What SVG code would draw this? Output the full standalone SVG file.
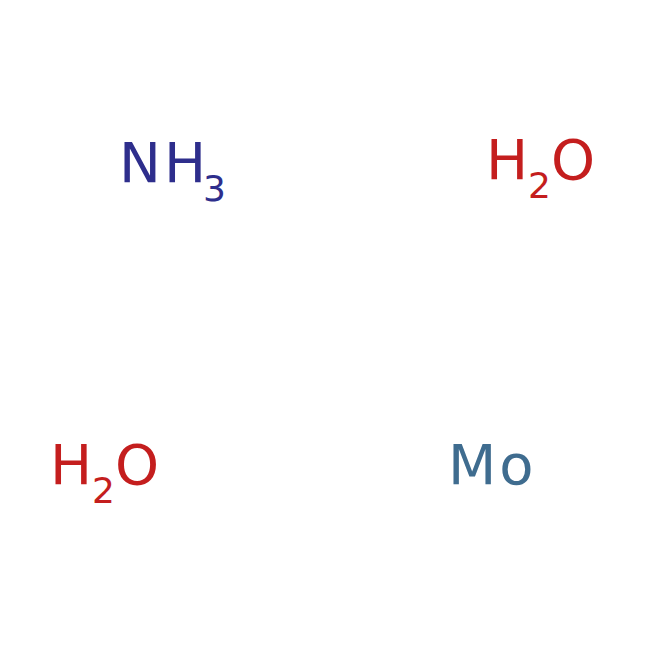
<svg xmlns="http://www.w3.org/2000/svg" width="650" height="650" viewBox="0 0 650 650">
<style>
text{font-family:"DejaVu Sans",sans-serif;font-size:56px}
.s{font-size:36px}
.n{fill:#2e2e8c}
.o{fill:#c41e1e}
.mo{fill:#3f6c8f}
</style>
<rect width="650" height="650" fill="#ffffff"/>
<g id="nh3"><text x="119" y="182" class="n">N<tspan dx="3">H</tspan><tspan class="s" dx="-3" dy="19">3</tspan></text></g>
<g id="h2o-1"><text x="486" y="179" class="o">H<tspan class="s" dy="19">2</tspan><tspan dy="-19">O</tspan></text></g>
<g id="h2o-2"><text x="50" y="484" class="o">H<tspan class="s" dy="19">2</tspan><tspan dy="-19">O</tspan></text></g>
<g id="mo"><text x="448" y="484" class="mo">M<tspan dx="3">o</tspan></text></g>
<g id="connectors"/>
</svg>
